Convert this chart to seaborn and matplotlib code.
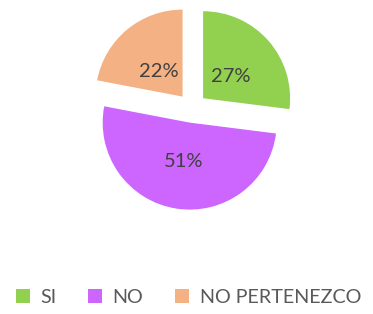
import matplotlib
matplotlib.use("Agg")
import matplotlib.pyplot as plt
import seaborn as sns
from matplotlib.patches import Patch

categories = ["SI", "NO", "NO PERTENEZCO"]
values = [27, 51, 22]
colors = ["#92D050", "#CC66FF", "#F4B183"]

sns.set_theme(style="white")
plt.rcParams['font.family'] = ['Lato', 'DejaVu Sans']

W, H = 373, 314
fig = plt.figure(figsize=(W / 100, H / 100), dpi=100)
r_px = 87
L = 1.2
w = 2 * L * r_px
cx, cy = 192, H - 108
ax = fig.add_axes([(cx - w / 2) / W, (cy - w / 2) / H, w / W, w / H])

wedges, texts, autotexts = ax.pie(
    values, colors=colors, startangle=90, counterclock=False,
    explode=[0.17] * 3, autopct=lambda p: f"{p:.0f}%", pctdistance=0.42,
    wedgeprops=dict(linewidth=0), textprops=dict(color="#404040", fontsize=14.5))
for t in autotexts:
    t.set_y(t.get_position()[1] - 0.03)
ax.set_xlim(-L, L)
ax.set_ylim(-L, L)
ax.set_aspect("equal")
ax.axis("off")

handles = [Patch(facecolor=c, edgecolor="none") for c in colors]
leg = fig.legend(handles, categories, loc="center", bbox_to_anchor=(0.505, 0.054),
                 ncol=3, frameon=False, handlelength=0.7, handleheight=0.7,
                 handletextpad=0.55, columnspacing=1.6, fontsize=14.2)
for t in leg.get_texts():
    t.set_color("#595959")

fig.savefig("out.png", dpi=100, facecolor="white")
